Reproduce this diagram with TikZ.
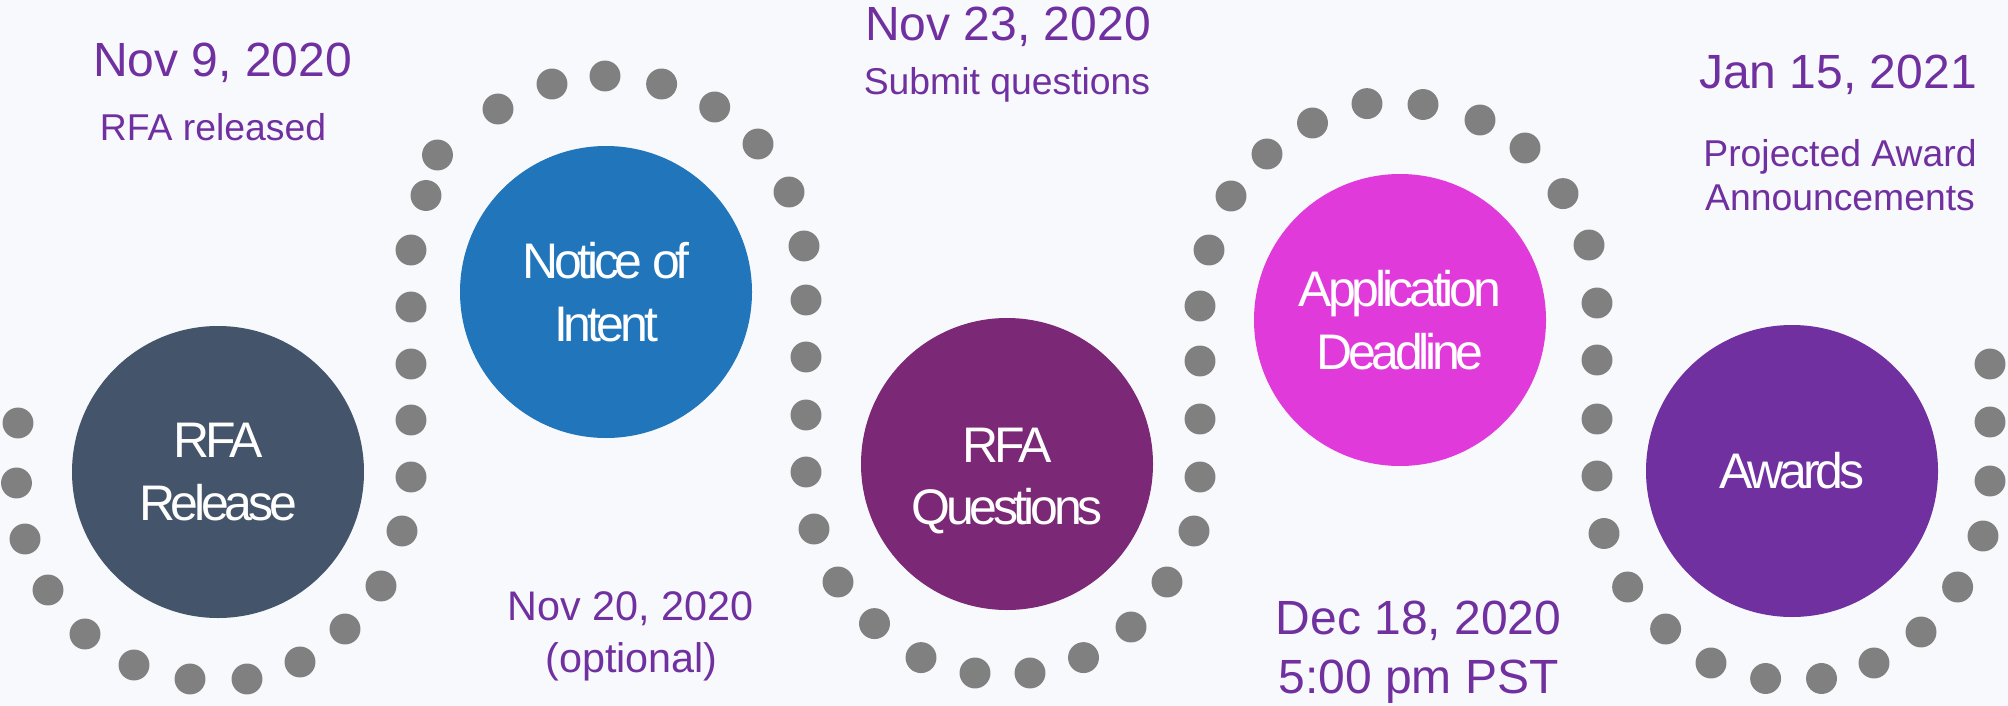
\documentclass[tikz,border=0pt]{standalone}
\usepackage{fontspec}
\setmainfont{Liberation Sans}
\newfontfamily\tightfont[LetterSpace=-8.5]{Liberation Sans}
\usepackage{xcolor}
\definecolor{pagebg}{HTML}{F7F9FC}
\definecolor{datepurple}{HTML}{7030A0}
\definecolor{dotgray}{HTML}{808080}
\definecolor{releasecol}{HTML}{44546A}
\definecolor{noticecol}{HTML}{2175BB}
\definecolor{questcol}{HTML}{7B2877}
\definecolor{deadlinecol}{HTML}{E03ADB}
\definecolor{awardcol}{HTML}{7030A0}

\tikzset{
  stagecircle/.style={circle, minimum size=219pt, inner sep=0pt, text=white, align=center,
    font={\tightfont\fontsize{37.5pt}{47pt}\selectfont}},
  stagetext/.style={inner sep=0pt, text=white, align=center,
    font={\tightfont\fontsize{37.5pt}{47pt}\selectfont}},
  datelabel/.style={text=datepurple, inner sep=0pt, anchor=base},
  bigdate/.style={datelabel, font={\fontsize{36pt}{43pt}\selectfont}},
  smalldate/.style={datelabel, font={\fontsize{31pt}{37pt}\selectfont}},
  note/.style={datelabel, font={\fontsize{28pt}{34pt}\selectfont}}
}

\begin{document}
\begin{tikzpicture}[x=0.75pt,y=0.75pt,yscale=-1,xscale=1]
        \fill [pagebg] (0,0) rectangle (2008,706);
        \useasboundingbox (0,0) rectangle (2008,706);

        % dotted snake
        \foreach \px/\py in {18/423, 16.5/483, 25/539, 48/590, 85/634, 134/665, 190/679, 247/679,
            300/662, 345/629, 381/586, 402/531, 411/477, 411/420, 411/364, 411/307, 411/250,
            426/195.5, 437.5/155, 498/109, 552/84, 605/76, 661.6/84, 714.7/107, 758/144, 789/192,
            804/246, 806/300, 806/357, 806/415, 806/472, 814/529, 838/582, 874.5/623.6, 921/657.6,
            975/673, 1030/673, 1083.5/657.6, 1131/627, 1167/582, 1194/531, 1200/477, 1200/419,
            1200/361, 1200/306, 1209/250, 1231/196, 1267/154, 1312.5/123, 1367/103.6, 1423/104.5,
            1480/120, 1525/148, 1563/193.6, 1589/245, 1597/303, 1597/360, 1597/419, 1597/476,
            1604/533.5, 1627.6/587, 1665.6/629, 1711/663, 1765.6/678.5, 1821.5/678.5, 1874/663,
            1921/632, 1957.6/587, 1983/536, 1990/481, 1990/422, 1990/364}
            \fill [dotgray] (\px,\py) circle [radius=11.6pt];

        % stages
        \node [stagecircle, fill=releasecol] (release) at (218,472) {RFA\\Release};
        \node [stagecircle, fill=noticecol] (notice) at (606,292) {Notice of\\Intent};
        \node [stagecircle, fill=questcol] (questions) at (1007,464) {};
        \node [stagetext] (questionsText) at (1007,481) {RFA\\Questions};
        \node [stagecircle, fill=deadlinecol] (deadline) at (1400,320) {Application\\Deadline};
        \node [stagecircle, fill=awardcol] (awards) at (1792,471) {Awards};

        % dates
        \node [bigdate] (releaseDate) at (222.6,77) {Nov 9, 2020};
        \node [note] (releaseNote) at (213,140.6) {RFA released};
        \node [smalldate] (noticeDate) at (630.5,620.5) {Nov 20, 2020};
        \node [smalldate] (noticeNote) at (631.5,672) {(optional)};
        \node [bigdate] (questDate) at (1008,40.7) {Nov 23, 2020};
        \node [note] (questNote) at (1007,95) {Submit questions};
        \node [bigdate] (deadlineDate) at (1418.5,634) {Dec 18, 2020};
        \node [bigdate] (deadlineTime) at (1418.5,693) {5:00 pm PST};
        \node [bigdate] (awardDate) at (1838,88.7) {Jan 15, 2021};
        \node [note] (awardNote) at (1840,166.7) {Projected Award};
        \node [note] (awardNoteB) at (1840,210.7) {Announcements};
\end{tikzpicture}
\end{document}
